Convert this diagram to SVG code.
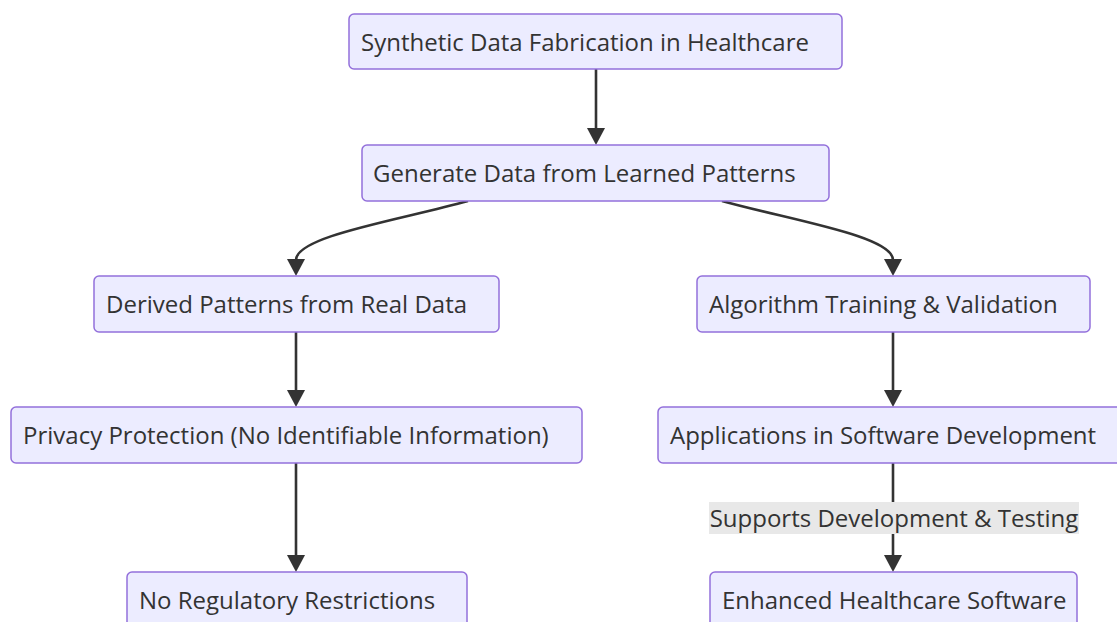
<svg xmlns="http://www.w3.org/2000/svg" width="1117" height="622" viewBox="0 0 1117 622">
  <defs>
    <style>
      .node rect { fill: #ECECFF; stroke: #9370DB; stroke-width: 1.5; }
      .node text { font-family: "Open Sans", "Liberation Sans", sans-serif; font-size: 24px; fill: #333333; }
      .edge { fill: none; stroke: #333333; stroke-width: 2.6; }
      .head { fill: #333333; }
      .elabel rect { fill: #E8E8E8; }
      .elabel text { font-family: "Open Sans", "Liberation Sans", sans-serif; font-size: 24px; fill: #333333; text-anchor: middle; }
    </style>
  </defs>
  <rect width="1117" height="622" fill="#ffffff"/>

  <g id="connectors">
    <path class="edge" d="M596,69 L596,129" />
    <polygon class="head" points="587,128 605,128 596,145"/>
    <path class="edge" d="M468,201 C400,220 296,236 296,260" />
    <polygon class="head" points="287,259 305,259 296,276"/>
    <path class="edge" d="M722,201 C790,220 893,236 893,260" />
    <polygon class="head" points="884,259 902,259 893,276"/>
    <path class="edge" d="M296,332 L296,391" />
    <polygon class="head" points="287,390 305,390 296,407"/>
    <path class="edge" d="M893,332 L893,391" />
    <polygon class="head" points="884,390 902,390 893,407"/>
    <path class="edge" d="M296,463 L296,556" />
    <polygon class="head" points="287,555 305,555 296,572"/>
    <path class="edge" d="M893,463 L893,556" />
    <polygon class="head" points="884,555 902,555 893,572"/>
    <g class="elabel">
      <rect x="709" y="502" width="370" height="32"/>
      <text x="894" y="527">Supports Development &amp; Testing</text>
    </g>
  </g>

  <g id="n1" class="node">
    <rect x="349" y="14" width="493" height="55" rx="5"/>
    <text x="361" y="51">Synthetic Data Fabrication in Healthcare</text>
  </g>
  <g id="n2" class="node">
    <rect x="362" y="145" width="467" height="56" rx="5"/>
    <text x="373" y="182">Generate Data from Learned Patterns</text>
  </g>
  <g id="n3" class="node">
    <rect x="94" y="276" width="405" height="56" rx="5"/>
    <text x="106" y="313">Derived Patterns from Real Data</text>
  </g>
  <g id="n4" class="node">
    <rect x="697" y="276" width="393" height="56" rx="5"/>
    <text x="709" y="313">Algorithm Training &amp; Validation</text>
  </g>
  <g id="n5" class="node">
    <rect x="11" y="407" width="571" height="56" rx="5"/>
    <text x="23" y="444">Privacy Protection (No Identifiable Information)</text>
  </g>
  <g id="n6" class="node">
    <rect x="658" y="407" width="470" height="56" rx="5"/>
    <text x="670" y="444">Applications in Software Development</text>
  </g>
  <g id="n7" class="node">
    <rect x="127" y="572" width="340" height="60" rx="5"/>
    <text x="139" y="609">No Regulatory Restrictions</text>
  </g>
  <g id="n8" class="node">
    <rect x="710" y="572" width="367" height="60" rx="5"/>
    <text x="722" y="609">Enhanced Healthcare Software</text>
  </g>
</svg>
